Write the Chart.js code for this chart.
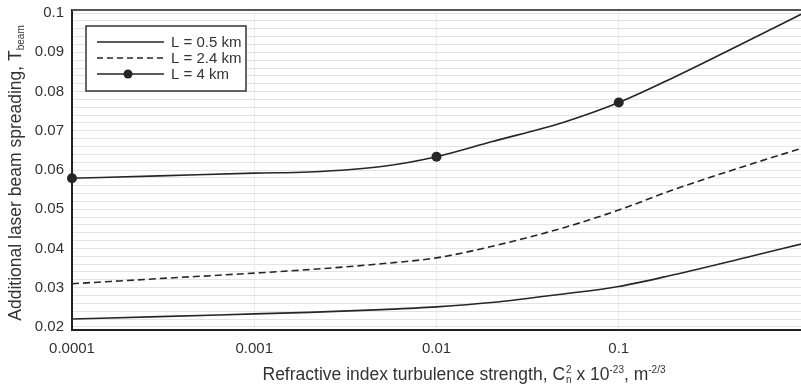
<!DOCTYPE html>
<html>
<head>
<meta charset="utf-8">
<script src="https://cdn.jsdelivr.net/npm/chart.js@4"></script>
<style>
  html, body { margin: 0; padding: 0; background: #fff; }
  #wrap { width: 801px; height: 386px; position: relative; }
</style>
</head>
<body>
<div id="wrap"><canvas id="c" width="801" height="386"></canvas></div>
<script>
// Refractive index structure parameter Cn^2 (x 10^-23 m^-2/3)
const cn2 = [0.0001, 0.0003, 0.001, 0.002, 0.005, 0.01, 0.02, 0.05, 0.1, 0.2, 0.5, 1];
// Additional beam spreading T_beam for each path length
const spreadL05 = [0.0220, 0.0226, 0.0233, 0.0237, 0.0244, 0.0251, 0.0262, 0.0284, 0.0303, 0.0333, 0.0377, 0.0411];
const spreadL24 = [0.0310, 0.0323, 0.0337, 0.0346, 0.0361, 0.0376, 0.0405, 0.0453, 0.0498, 0.0550, 0.0611, 0.0655];
const spreadL4  = [0.0579, 0.0585, 0.0592, 0.0595, 0.0609, 0.0634, 0.0672, 0.0722, 0.0772, 0.0836, 0.0927, 0.0997];
// Cn^2 values where the L = 4 km curve carries a marker
const markerCn2 = [0.0001, 0.01, 0.1];
const seriesNames = ['L = 0.5 km', 'L = 2.4 km', 'L = 4 km'];
const xTicks = [0.0001, 0.001, 0.01, 0.1];
const xTickLabels = ['0.0001', '0.001', '0.01', '0.1'];
const yMajorTicks = [0.02, 0.03, 0.04, 0.05, 0.06, 0.07, 0.08, 0.09, 0.1];

const INK = '#262626';
const FONT = '"Liberation Sans", Arial, sans-serif';

const toPts = (ys) => cn2.map((x, i) => ({ x: x, y: ys[i] }));

// Axis titles with sub/superscripts, frame top and legend box
const titlePlugin = {
  id: 'titles',
  afterDraw(chart) {
    const ctx = chart.ctx;
    const area = chart.chartArea;
    ctx.save();
    ctx.fillStyle = '#333';
    ctx.textBaseline = 'alphabetic';

    // x-axis title
    const big = '17.5px ' + FONT, small = '10px ' + FONT;
    const parts = [
      { t: 'Refractive index turbulence strength, C', f: big, dy: 0 },
      { stack: ['2', 'n'] },
      { t: ' x 10', f: big, dy: 0 },
      { t: '-23', f: small, dy: -7 },
      { t: ', m', f: big, dy: 0 },
      { t: '-2/3', f: small, dy: -7 }
    ];
    const widthOf = (p) => {
      if (p.stack) { ctx.font = small; return Math.max(...p.stack.map(s => ctx.measureText(s).width)) + 1; }
      ctx.font = p.f; return ctx.measureText(p.t).width;
    };
    const total = parts.reduce((s, p) => s + widthOf(p), 0);
    let x = 464 - total / 2;
    const by = 380;
    ctx.textAlign = 'left';
    parts.forEach(p => {
      const w = widthOf(p);
      if (p.stack) {
        ctx.font = small;
        ctx.fillText(p.stack[0], x + 1, by - 7);
        ctx.fillText(p.stack[1], x + 1, by + 3);
      } else {
        ctx.font = p.f;
        ctx.fillText(p.t, x, by + p.dy);
      }
      x += w;
    });

    // y-axis title (rotated)
    ctx.translate(21, 173);
    ctx.rotate(-Math.PI / 2);
    const yMain = 'Additional laser beam spreading, T';
    ctx.font = big;
    const w1 = ctx.measureText(yMain).width;
    ctx.font = small;
    const w2 = ctx.measureText('beam').width;
    const sx = -(w1 + w2) / 2;
    ctx.font = big;
    ctx.fillText(yMain, sx, 0);
    ctx.font = small;
    ctx.fillText('beam', sx + w1, 3);
    ctx.restore();

    // top frame line
    ctx.save();
    ctx.strokeStyle = '#555';
    ctx.lineWidth = 2;
    ctx.beginPath();
    ctx.moveTo(area.left, area.top);
    ctx.lineTo(area.right, area.top);
    ctx.stroke();
    ctx.restore();

    // legend box
    ctx.save();
    const lx = 86, ly = 26, lw = 160, lh = 65;
    ctx.fillStyle = '#fff';
    ctx.fillRect(lx, ly, lw, lh);
    ctx.strokeStyle = '#333';
    ctx.lineWidth = 1.5;
    ctx.strokeRect(lx, ly, lw, lh);
    const rows = [42, 58, 74];
    ctx.strokeStyle = INK;
    ctx.lineWidth = 1.5;
    rows.forEach((ry, i) => {
      ctx.setLineDash(i === 1 ? [6, 4] : []);
      ctx.beginPath();
      ctx.moveTo(97, ry);
      ctx.lineTo(164, ry);
      ctx.stroke();
      ctx.setLineDash([]);
      if (i === 2) {
        ctx.fillStyle = INK;
        ctx.beginPath();
        ctx.arc(128, ry, 4.5, 0, Math.PI * 2);
        ctx.fill();
      }
      ctx.fillStyle = '#333';
      ctx.font = '15px ' + FONT;
      ctx.textBaseline = 'middle';
      ctx.fillText(seriesNames[i], 171, ry + 1);
    });
    ctx.restore();
  }
};

new Chart(document.getElementById('c'), {
  type: 'line',
  data: {
    datasets: [
      {
        label: seriesNames[0], data: toPts(spreadL05),
        borderColor: INK, borderWidth: 1.6, pointRadius: 0, pointHoverRadius: 0,
        cubicInterpolationMode: 'monotone', fill: false
      },
      {
        label: seriesNames[1], data: toPts(spreadL24),
        borderColor: INK, borderWidth: 1.6, borderDash: [7, 4], pointRadius: 0, pointHoverRadius: 0,
        cubicInterpolationMode: 'monotone', fill: false
      },
      {
        label: seriesNames[2], data: toPts(spreadL4),
        borderColor: INK, borderWidth: 1.6,
        pointRadius: (c) => markerCn2.includes(cn2[c.dataIndex]) ? 5 : 0,
        pointHoverRadius: 0, pointBorderWidth: 0,
        pointBackgroundColor: INK, pointBorderColor: INK,
        cubicInterpolationMode: 'monotone', fill: false, clip: false
      }
    ]
  },
  options: {
    responsive: false,
    animation: false,
    devicePixelRatio: 1,
    events: [],
    layout: { autoPadding: false, padding: { top: 10, right: 0, left: 0, bottom: 0 } },
    plugins: { legend: { display: false }, tooltip: { enabled: false } },
    scales: {
      x: {
        type: 'logarithmic', min: 0.0001, max: 1,
        afterBuildTicks: (s) => { s.ticks = xTicks.map(v => ({ value: v })); },
        afterFit: (s) => { s.height = 56; s.paddingLeft = 0; s.paddingRight = 0; },
        ticks: {
          callback: (v) => { const i = xTicks.indexOf(v); return i >= 0 ? xTickLabels[i] : ''; },
          color: '#333', font: { family: FONT, size: 15 }, maxRotation: 0, padding: 10
        },
        grid: { color: '#ececec', lineWidth: 1, drawTicks: false },
        border: { color: '#222', width: 2 }
      },
      y: {
        type: 'linear', min: 0.0192, max: 0.1008,
        afterBuildTicks: (s) => {
          const t = [];
          for (let k = 10; k <= 50; k++) t.push({ value: k * 0.002 });
          s.ticks = t;
        },
        afterFit: (s) => { s.width = 72; s.paddingTop = 0; s.paddingBottom = 0; },
        ticks: {
          callback: (v) => {
            const m = yMajorTicks.find(q => Math.abs(q - v) < 1e-9);
            return m !== undefined ? String(+m.toFixed(2)) : '';
          },
          autoSkip: false,
          color: '#333', font: { family: FONT, size: 15 }, padding: 8
        },
        grid: { color: '#e3e3e3', lineWidth: 1, drawTicks: false },
        border: { color: '#222', width: 2 }
      }
    }
  },
  plugins: [titlePlugin]
});
</script>
</body>
</html>
